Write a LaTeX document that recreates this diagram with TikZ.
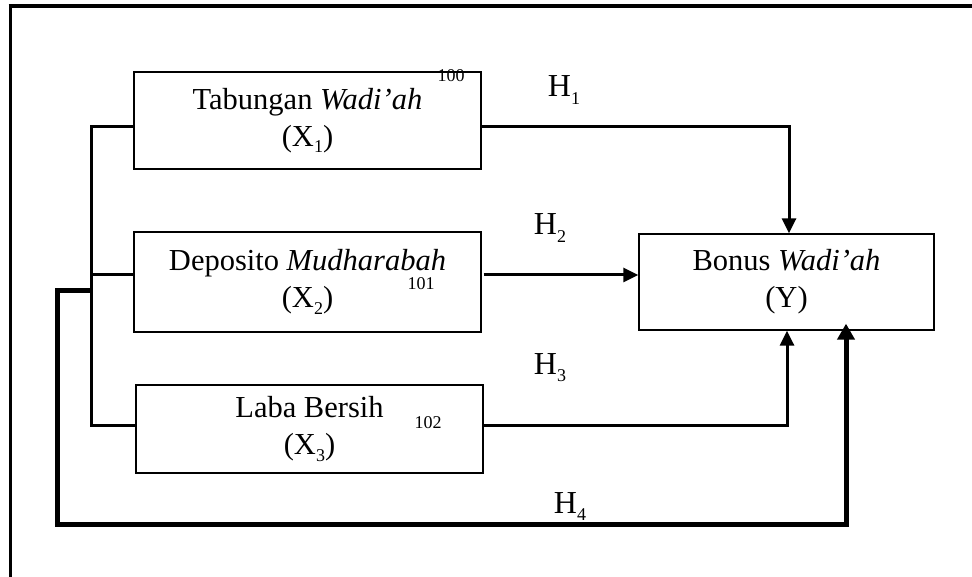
\documentclass[tikz,border=0pt]{standalone}
\usepackage{fontspec}
\setmainfont{Liberation Serif}
\usetikzlibrary{arrows.meta,calc}
\newcommand{\subd}[1]{\raisebox{-0.22em}{\fontsize{18}{18}\selectfont #1}}
\begin{document}
\begin{tikzpicture}[x=1pt,y=-1pt,
  varbox/.style={draw, line width=1.3pt, inner sep=0pt, align=center, font=\fontsize{30.5}{37}\selectfont},
  conn/.style={line width=3pt},
  thickconn/.style={line width=5pt},
  tip/.style={-{Triangle[length=15pt,width=14pt]}},
  bigtip/.style={-{Triangle[length=16pt,width=17pt]}},
  hlbl/.style={font=\fontsize{32}{32}\selectfont, inner sep=0pt, anchor=base},
  num/.style={font=\fontsize{18}{18}\selectfont, inner sep=0pt, anchor=base}]
\useasboundingbox (0,0) rectangle (972,577);
% frame
\draw[line width=3pt] (10,577) -- (10,6);
\draw[line width=4pt] (8.5,6) -- (972,6);
% boxes
\node[varbox, minimum width=347pt, minimum height=97pt] (X1) at (307.5,120.5) {Tabungan \textit{Wadi’ah}\\(X\subd{1})};
\node[varbox, minimum width=347pt, minimum height=100pt] (X2) at (307.5,282) {Deposito \textit{Mudharabah}\\(X\subd{2})};
\node[varbox, minimum width=347pt, minimum height=88pt] (X3) at (309.5,429) {Laba Bersih\\(X\subd{3})};
\node[varbox, minimum width=295pt, minimum height=96pt] (Y) at (786.5,282) {Bonus \textit{Wadi’ah}\\(Y)};
% small numbers
\node[num] (n100) at (451,82) {100};
\node[num] (n101) at (421,290) {101};
\node[num] (n102) at (428,428) {102};
% coordinates
\coordinate (bt) at (91,127);
\coordinate (bm) at (91,275);
\coordinate (bb) at (91,425);
\coordinate (h4s) at (92,291);
\coordinate (h4a) at (57,291);
\coordinate (h4c) at (57,524);
\coordinate (h4x) at (846,524);
\coordinate (h1c) at (789,127);
\coordinate (h3c) at (787,425);
% bracket
\draw[conn] (X1.west |- bt) -- (bt) -- (bb) -- (X3.west |- bb);
\draw[conn] (X2.west |- bm) -- (bm);
% H1
\draw[conn,tip] (X1.east |- h1c) -- (h1c) -- (h1c |- Y.north);
% H2
\draw[conn,tip] ($(X2.east |- bm)+(2,0)$) -- (Y.west |- bm);
% H3
\draw[conn,tip] (X3.east |- h3c) -- (h3c) -- (h3c |- Y.south);
% H4
\draw[thickconn,bigtip] (h4s) -- (h4a) -- (h4c) -- (h4x) -- ($(h4x |- Y.south)+(0,-7)$);
% labels
\node[hlbl] (H1) at (564,97) {H\subd{1}};
\node[hlbl] (H2) at (550,235) {H\subd{2}};
\node[hlbl] (H3) at (550,374) {H\subd{3}};
\node[hlbl] (H4) at (570,513) {H\subd{4}};
\end{tikzpicture}
\end{document}
